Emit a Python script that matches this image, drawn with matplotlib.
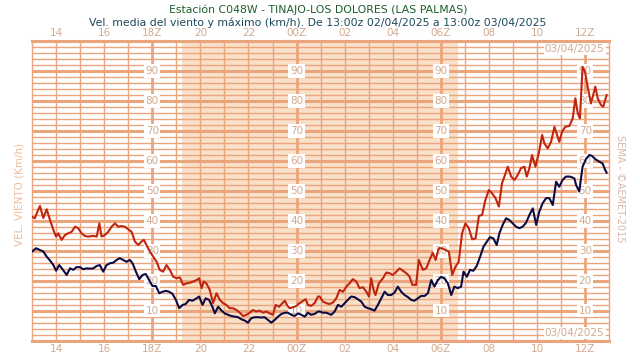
import numpy as np
import matplotlib.pyplot as plt

# horas desde las 13:00z del 02/04/2025
t_max = [0.00, 0.12, 0.22, 0.33, 0.47, 0.61, 0.75, 0.89, 1.00, 1.09, 1.23, 1.37, 1.51, 1.65, 1.79, 1.92,
         2.06, 2.20, 2.34, 2.55, 2.69, 2.80, 2.89, 3.03, 3.17, 3.31, 3.45, 3.58, 3.72, 3.86, 4.00, 4.14,
         4.28, 4.42, 4.55, 4.65, 4.76, 4.90, 5.04, 5.18, 5.31, 5.45, 5.59, 5.73, 5.87, 6.01, 6.15, 6.28,
         6.42, 6.56, 6.70, 6.84, 6.95, 7.05, 7.14, 7.25, 7.39, 7.53, 7.67, 7.81, 7.94, 8.08, 8.22, 8.36,
         8.50, 8.64, 8.78, 8.91, 9.05, 9.19, 9.33, 9.47, 9.61, 9.74, 9.88, 10.02, 10.13, 10.27, 10.41, 10.51,
         10.60, 10.71, 10.85, 10.99, 11.13, 11.27, 11.38, 11.47, 11.61, 11.75, 11.89,
         11.96, 12.10, 12.24, 12.37, 12.51, 12.65, 12.79, 12.93, 13.07, 13.20, 13.34, 13.48, 13.62, 13.76,
         13.90, 14.01, 14.10, 14.20, 14.28, 14.42, 14.59, 14.73, 14.86, 15.00, 15.14, 15.28, 15.42, 15.56,
         15.70, 15.81, 15.97, 16.08, 16.25, 16.39, 16.53, 16.66, 16.78, 16.91, 17.05, 17.19, 17.33, 17.47,
         17.61, 17.74, 17.88, 18.02, 18.16, 18.30, 18.44, 18.58, 18.71, 18.85, 18.99, 19.13, 19.27, 19.41,
         19.54, 19.64, 19.78, 19.92, 20.06, 20.19, 20.33, 20.47, 20.57, 20.68, 20.79, 20.93, 21.07, 21.21,
         21.30, 21.44, 21.58, 21.72, 21.81, 21.92, 22.04, 22.17, 22.34, 22.48, 22.59, 22.69, 22.78, 22.89,
         22.99, 23.10, 23.24, 23.31, 23.42, 23.52, 23.65, 23.75, 23.89]
v_max = [41.4, 40.9, 43.0, 45.0, 41.0, 43.9, 40.3, 37.0, 34.8, 35.9, 33.7, 35.3, 35.9, 36.4, 38.1, 37.6,
         35.9, 35.0, 34.8, 35.0, 34.8, 39.2, 34.8, 35.3, 36.4, 38.1, 39.2, 38.1, 38.3, 38.1, 37.2, 36.4,
         33.1, 32.0, 33.1, 33.7, 32.0, 29.8, 28.1, 26.4, 23.7, 23.1, 25.3, 23.7, 21.4, 20.9, 21.2, 18.7,
         19.2, 19.4, 19.8, 20.3, 20.9, 17.6, 19.8, 19.2, 17.0, 12.6, 15.9, 13.7, 12.6, 12.0, 10.9, 10.9,
         10.3, 9.4, 8.3, 8.7, 9.4, 10.3, 9.8, 10.1, 9.4, 9.8, 9.2, 8.7, 12.0, 11.4, 12.6, 13.4,
         12.0, 10.9, 11.2, 11.7, 12.6, 13.4, 13.9, 12.0, 11.7, 12.6, 14.8,
         14.8, 13.1, 12.6, 12.3, 12.8, 14.2, 17.0, 16.4, 18.1, 19.2, 20.6, 19.8, 17.6, 17.9,
         16.4, 14.8, 20.9, 17.0, 15.3, 19.2, 20.9, 22.8, 22.6, 22.0, 23.0, 24.2, 23.4, 22.6,
         21.4, 18.7, 18.7, 27.0, 23.7, 24.2, 27.0, 29.4, 27.0, 30.9, 30.9, 30.3, 29.8, 22.0,
         24.8, 26.4, 35.9, 39.2, 37.6, 33.9, 34.2, 41.7, 42.0, 47.0, 50.3, 49.2, 47.6, 44.8,
         52.6, 54.8, 58.1, 54.8, 53.7, 55.3, 57.6, 58.1, 54.8, 57.6, 62.0, 58.1, 62.6, 68.7,
         65.9, 64.2, 66.4, 71.4, 69.2, 66.4, 69.8, 71.4, 71.7, 74.2, 80.9, 75.9, 74.2, 91.4,
         89.8, 84.8, 79.2, 81.4, 84.8, 80.9, 78.7, 78.1, 82.0]

t_med = [0.00, 0.17, 0.33, 0.47, 0.61, 0.75, 0.89, 1.00, 1.13, 1.27, 1.44, 1.58, 1.72, 1.85, 1.99, 2.13,
         2.27, 2.41, 2.55, 2.69, 2.82, 2.96, 3.10, 3.24, 3.38, 3.52, 3.65, 3.79, 3.93, 4.07, 4.18, 4.32,
         4.46, 4.60, 4.73, 4.87, 5.01, 5.15, 5.29, 5.43, 5.56, 5.70, 5.84, 5.98, 6.12, 6.26, 6.39, 6.53,
         6.67, 6.84, 6.95, 7.09, 7.22, 7.36, 7.50, 7.60, 7.74, 7.88, 8.01, 8.15, 8.29, 8.43, 8.57, 8.71,
         8.84, 8.98, 9.12, 9.26, 9.40, 9.54, 9.67, 9.81, 9.95, 10.09, 10.23, 10.37, 10.51, 10.64, 10.78, 10.92,
         11.06, 11.20, 11.34, 11.47, 11.61, 11.75, 11.89,
         11.96, 12.10, 12.24, 12.44, 12.58, 12.72, 12.86, 13.00, 13.13, 13.27, 13.41, 13.55, 13.69, 13.83,
         13.97, 14.10, 14.24, 14.38, 14.52, 14.66, 14.80, 14.93, 15.07, 15.21, 15.35, 15.49, 15.63, 15.76,
         15.90, 16.04, 16.18, 16.32, 16.46, 16.60, 16.73, 16.87, 17.01, 17.15, 17.29, 17.43, 17.56, 17.70,
         17.84, 17.94, 18.08, 18.21, 18.35, 18.49, 18.63, 18.77, 18.91, 19.04, 19.18, 19.32, 19.43, 19.57,
         19.71, 19.85, 19.99, 20.12, 20.26, 20.40, 20.54, 20.68, 20.82, 20.96, 21.09, 21.23, 21.37, 21.51,
         21.65, 21.79, 21.92, 22.06, 22.20, 22.37, 22.55, 22.62, 22.75, 22.89, 23.03, 23.17, 23.28, 23.42,
         23.58, 23.72, 23.83, 23.89]
v_med = [29.8, 30.9, 30.3, 29.8, 28.1, 26.8, 25.3, 23.4, 25.3, 23.9, 22.0, 24.2, 23.7, 24.6, 24.6, 23.9,
         24.2, 24.1, 24.2, 25.0, 25.3, 23.1, 25.3, 25.9, 26.1, 27.0, 27.6, 27.0, 26.4, 27.0, 25.9, 23.1,
         20.6, 22.0, 22.3, 20.3, 18.3, 18.3, 15.9, 16.4, 16.7, 16.4, 15.7, 13.7, 10.9, 12.0, 12.3, 13.7,
         13.4, 14.2, 14.8, 12.0, 14.2, 13.7, 11.4, 9.2, 11.4, 10.1, 9.2, 8.7, 8.3, 8.1, 7.9, 7.2,
         6.8, 6.1, 7.6, 7.9, 7.9, 7.8, 7.9, 7.0, 6.1, 7.0, 8.1, 9.0, 9.4, 9.4, 8.7, 8.3,
         9.2, 8.7, 8.1, 9.4, 8.7, 9.0, 9.8,
         9.8, 9.4, 9.4, 8.7, 9.8, 12.0, 11.4, 12.6, 13.7, 14.8, 14.6, 13.9, 13.1, 11.4,
         10.9, 10.6, 10.1, 12.0, 14.2, 16.4, 15.3, 15.3, 16.1, 18.1, 16.4, 15.3, 14.6, 13.7,
         13.4, 14.2, 15.0, 15.0, 15.9, 20.3, 18.1, 20.3, 21.4, 20.8, 19.2, 15.3, 18.1, 17.6,
         18.1, 23.1, 21.4, 23.7, 23.4, 25.0, 28.1, 31.4, 33.1, 34.6, 34.2, 32.0, 35.9, 38.7,
         40.9, 40.3, 39.2, 38.1, 37.6, 38.1, 39.4, 42.0, 44.2, 38.7, 43.1, 45.9, 47.6, 47.6,
         45.3, 53.1, 51.4, 53.7, 54.8, 54.8, 54.2, 52.0, 49.8, 58.1, 60.6, 62.0, 61.7, 60.6,
         59.8, 59.2, 57.0, 56.1]

hour_ticks = list(range(1, 24, 2))
hour_labels = ['14', '16', '18Z', '20', '22', '00Z', '02', '04', '06Z', '08', '10', '12Z']
synop_hours = [5, 11, 17, 23]       # 18Z, 00Z, 06Z, 12Z
noche = (6.23, 17.7)                # puesta y salida del sol
y_labels = list(range(10, 100, 10))

orange = '#eba57c'
tan = '#d2aa90'

fig = plt.figure(figsize=(6.4, 3.6), dpi=100)
ax = fig.add_axes([0.05, 0.053, 0.902, 0.833])
ax.set_xlim(0, 24)
ax.set_ylim(0, 100)

ax.axvspan(noche[0], noche[1], color='#f9e0c9', lw=0, zorder=0)

# rejilla
for y in range(2, 100, 2):
    lw = 2.2 if y % 10 == 0 else 1.0
    ax.axhline(y, color=orange, lw=lw, zorder=1)
for h in range(1, 24):
    lw = 2.0 if h in synop_hours else 1.0
    ax.axvline(h, color=orange, lw=lw, zorder=1)

ax.plot(t_max, v_max, color='#c0250e', lw=1.5, zorder=4)
ax.plot(t_med, v_med, color='#0c0c45', lw=1.5, zorder=4)

for h in synop_hours:
    for y in y_labels:
        ax.text(h, y, str(y), ha='center', va='center', fontsize=7.5, color=tan, zorder=3,
                bbox=dict(boxstyle='square,pad=0.15', fc='white', ec='none'))

ax.text(23.8, 97.3, '03/04/2025', ha='right', va='center', fontsize=7.5, color=tan, zorder=5,
        bbox=dict(boxstyle='square,pad=0.1', fc='white', ec='none'))
ax.text(23.8, 2.6, '03/04/2025', ha='right', va='center', fontsize=7.5, color=tan, zorder=5,
        bbox=dict(boxstyle='square,pad=0.1', fc='white', ec='none'))

ax.set_xticks(hour_ticks)
ax.set_xticklabels(hour_labels)
ax.set_yticks([])
ax.tick_params(axis='x', length=0, labelsize=7.5, colors=tan, pad=2,
               top=True, labeltop=True)
for s in ax.spines.values():
    s.set_color(orange)
    s.set_linewidth(1.0)
ax.spines['top'].set_linewidth(2.2)
ax.spines['bottom'].set_linewidth(2.2)

fig.text(0.497, 0.972, 'Estación C048W - TINAJO-LOS DOLORES (LAS PALMAS)', ha='center', va='center',
         fontsize=7.8, color='#1d5e2c')
fig.text(0.497, 0.938, 'Vel. media del viento y máximo (km/h). De 13:00z 02/04/2025 a 13:00z 03/04/2025',
         ha='center', va='center', fontsize=7.8, color='#1b4a5c')
fig.text(0.031, 0.46, 'VEL. VIENTO (Km/h)', rotation=90, ha='center', va='center',
         fontsize=7.5, color='#f0bc98')
fig.text(0.969, 0.477, 'SEMA - ©AEMET-2015', rotation=270, ha='center', va='center',
         fontsize=7, color='#d8b8a8')

plt.savefig('out.png', dpi=100)
